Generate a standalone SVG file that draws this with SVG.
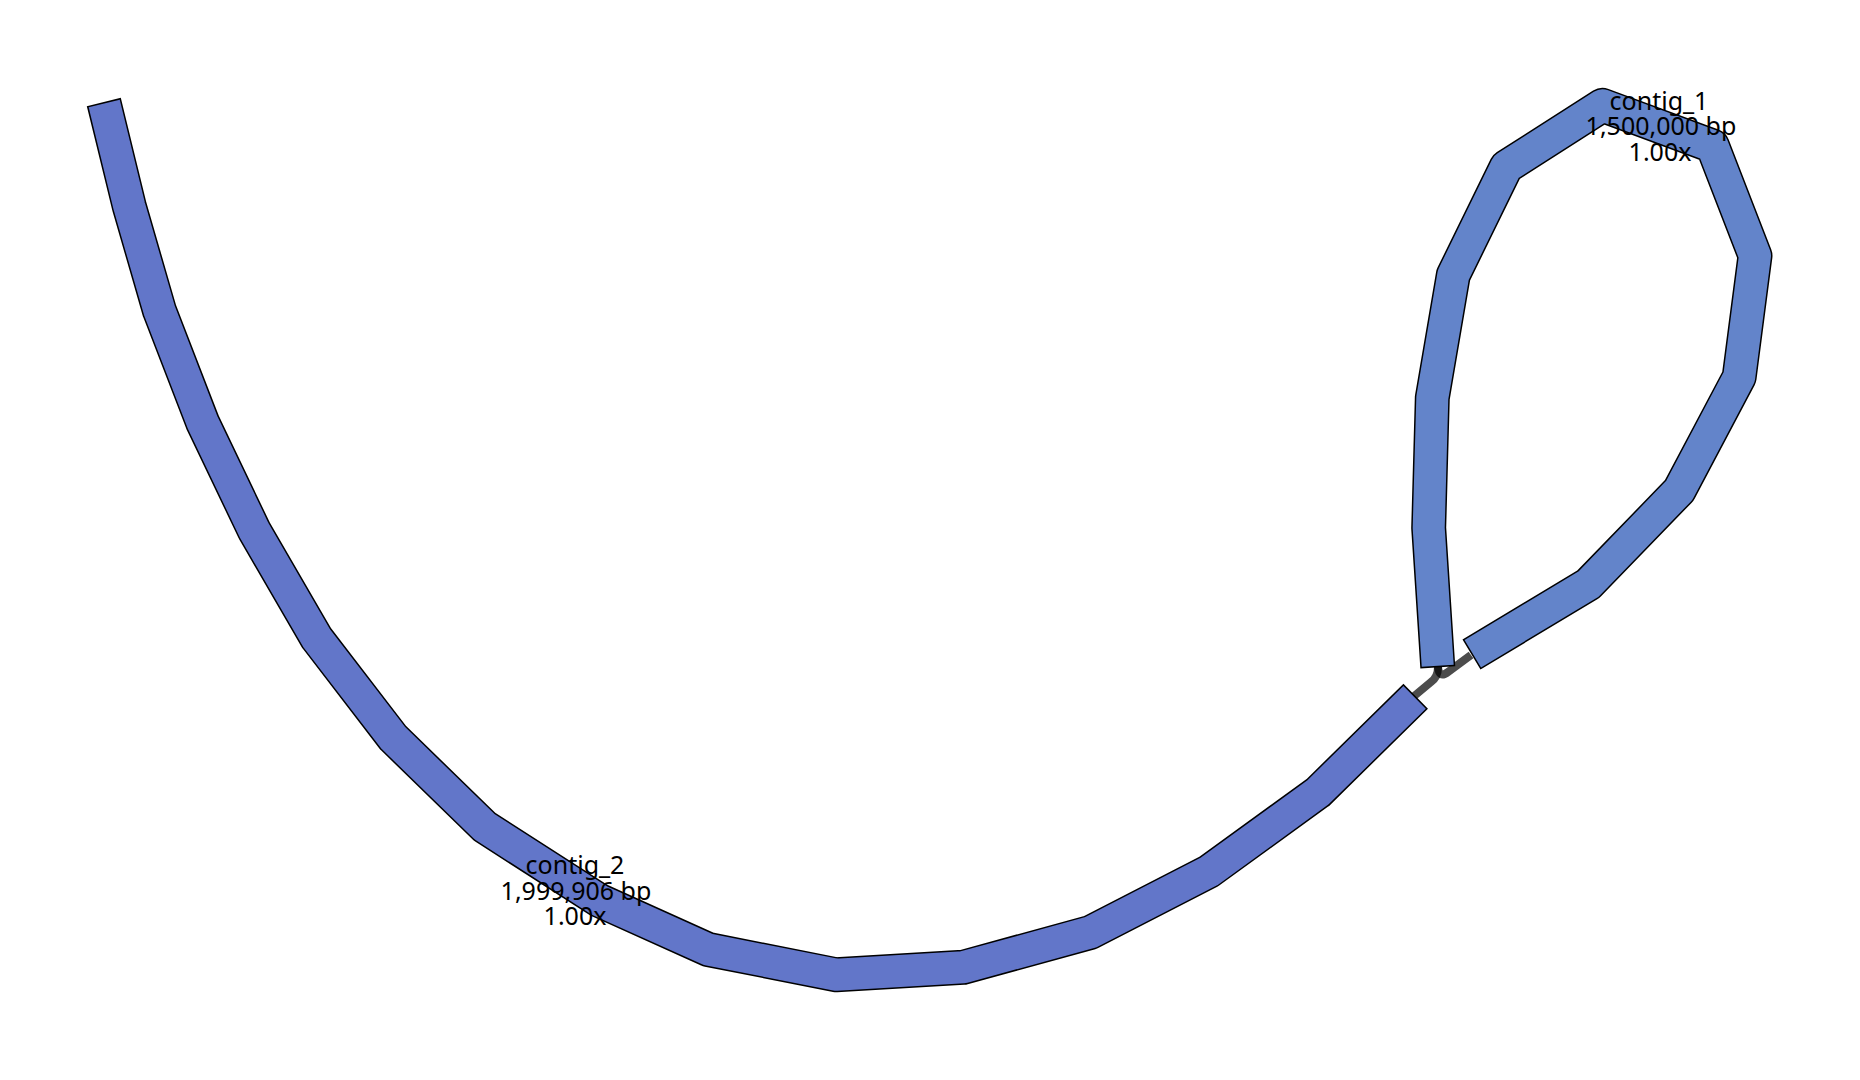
<svg xmlns="http://www.w3.org/2000/svg" width="1860" height="1080" viewBox="0 0 1860 1080">
<style>
.edge{fill:none;stroke:#000;stroke-opacity:0.7;stroke-width:8;stroke-linecap:butt;stroke-linejoin:round}
.out{fill:none;stroke:#000;stroke-width:35;stroke-linejoin:round;stroke-linecap:butt}
.c2{fill:none;stroke:#6276c9;stroke-width:32;stroke-linejoin:round;stroke-linecap:butt}
.c1{fill:none;stroke:#6384ca;stroke-width:32;stroke-linejoin:round;stroke-linecap:butt}
.lbl{font-family:"Noto Sans","Open Sans",sans-serif;font-size:25px;fill:#000;text-anchor:middle}
</style>
<rect width="1860" height="1080" fill="#fff"/>
<g id="edges">
<path class="edge" d="M1413,697 L1431,682 Q1438,677 1438,667"/>
<path class="edge" d="M1438,667 Q1439,679 1448,672 L1471,655"/>
</g>
<g id="contig_2">
<polyline class="out" points="103.8,102 129.3,206.4 159.5,310.8 202.8,422.9 254.4,530.8 316.7,638.2 393.2,737.8 484.6,826.8 599,900.3 708.2,949.5 836.3,974.8 963.2,967.3 1090.7,932.3 1209.3,871.2 1317.9,792.4 1415.7,696.3"/>
<polyline class="c2" points="104.2,103.5 129.3,206.4 159.5,310.8 202.8,422.9 254.4,530.8 316.7,638.2 393.2,737.8 484.6,826.8 599,900.3 708.2,949.5 836.3,974.8 963.2,967.3 1090.7,932.3 1209.3,871.2 1317.9,792.4 1414.6,697.4"/>
<text class="lbl" x="575" y="874">contig_2</text>
<text class="lbl" x="576" y="899.5">1,999,906 bp</text>
<text class="lbl" x="575" y="925">1.00x</text>
</g>
<g id="contig_1">
<polyline class="out" points="1437.8,667.3 1428.7,528 1432.3,397.7 1453.3,275 1506.3,166.8 1602.5,105.3 1712.5,146 1755,255.7 1739.2,377.1 1679.2,490.5 1588.3,584.3 1471.5,654.5"/>
<polyline class="c1" points="1437.7,665.8 1428.7,528 1432.3,397.7 1453.3,275 1506.3,166.8 1602.5,105.3 1712.5,146 1755,255.7 1739.2,377.1 1679.2,490.5 1588.3,584.3 1472.8,653.7"/>
<text class="lbl" x="1659" y="109.5">contig_1</text>
<text class="lbl" x="1661" y="135">1,500,000 bp</text>
<text class="lbl" x="1660" y="160.5">1.00x</text>
</g>
</svg>
